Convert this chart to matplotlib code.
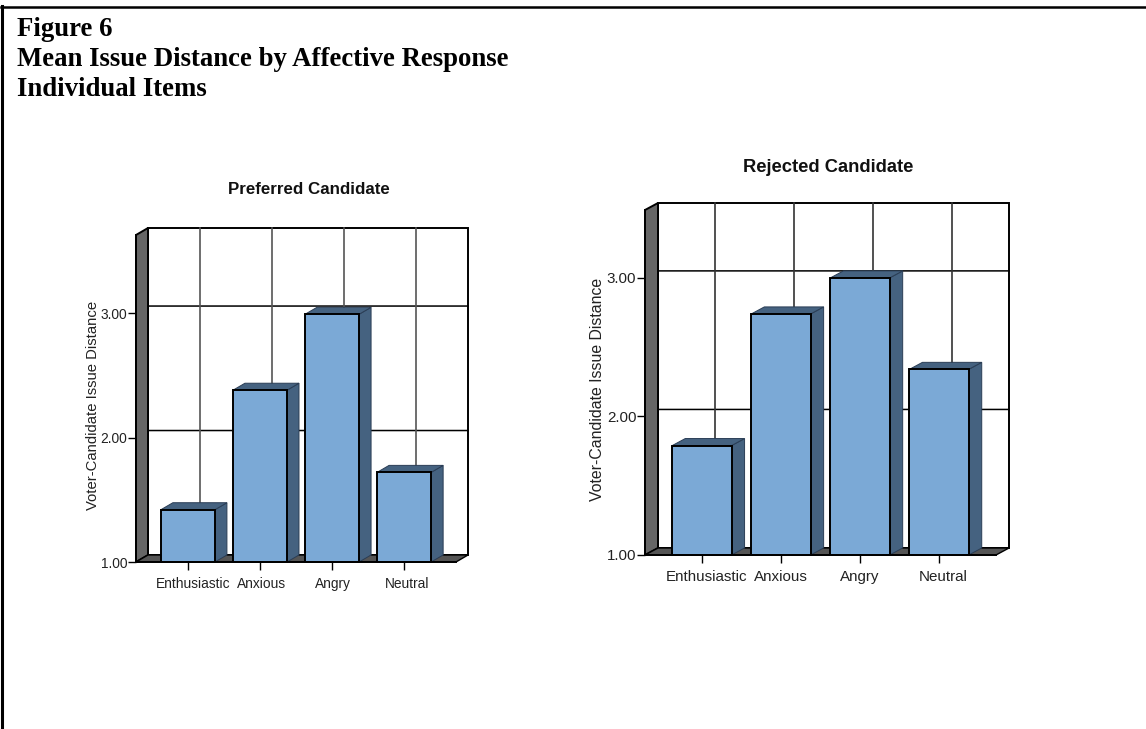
#!/usr/bin/env python3
"""Figure 6: mean issue distance by affective response, fake-3D bars."""

import matplotlib
matplotlib.use('Agg')
import matplotlib.pyplot as plt
from matplotlib.patches import Polygon, Rectangle
from matplotlib.lines import Line2D
from matplotlib.transforms import ScaledTranslation

W, H = 1146, 729

categories = ['Enthusiastic', 'Anxious', 'Angry', 'Neutral']
y_ticks = [1, 2, 3]
preferred = [1.42, 2.38, 2.99, 1.72]
rejected = [1.79, 2.74, 3.00, 2.34]

FRONT = '#7BA9D6'
SHADE = '#456280'
WALL = '#666666'
FLOOR = '#555555'

plt.rcParams['font.family'] = ['Liberation Sans', 'DejaVu Sans']


def draw_chart(fig, vals, title, left, right, bottom, top, ymax, dx, dy, fs, lab_fs, title_fs,
               title_xy, ylab_xy, vgrid, label_shift):
    """left/right/bottom/top are the front plane in pixels, dx/dy the depth."""
    ax = fig.add_axes([left / W, 1 - bottom / H, (right - left) / W, (bottom - top) / H])
    ax.patch.set_visible(False)
    ax.set_xlim(-0.72, 3.72)
    ax.set_ylim(1, ymax)
    ddx = dx * 4.44 / (right - left)
    ddy = dy * (ymax - 1) / (bottom - top)
    x0, x1 = -0.72, 3.72

    # back wall, side wall, floor
    ax.add_patch(Rectangle((x0 + ddx, 1 + ddy), x1 - x0, ymax - 1, fc='white', ec='black', lw=1.4, clip_on=False, zorder=1))
    ax.add_patch(Polygon([(x0, 1), (x0 + ddx, 1 + ddy), (x0 + ddx, ymax + ddy), (x0, ymax)],
                         fc=WALL, ec='black', lw=1.4, clip_on=False, zorder=3))
    ax.add_patch(Polygon([(x0, 1), (x1, 1), (x1 + ddx, 1 + ddy), (x0 + ddx, 1 + ddy)],
                         fc=FLOOR, ec='black', lw=1, clip_on=False, zorder=3))

    # grid on the back wall
    for t in y_ticks[1:]:
        ax.add_line(Line2D([x0, x0 + ddx, x1 + ddx], [t, t + ddy, t + ddy], color='black', lw=1.1, clip_on=False, zorder=2))
    for i in range(len(categories)):
        ax.add_line(Line2D([i + ddx, i + ddx], [1 + ddy, ymax + ddy], color=vgrid, lw=1.2, clip_on=False, zorder=2))

    # bars
    w = 0.375
    for i, v in enumerate(vals):
        ax.add_patch(Polygon([(i + w, 1), (i + w + ddx, 1 + ddy), (i + w + ddx, v + ddy), (i + w, v)],
                             fc=SHADE, ec='#2a3d55', lw=0.7, clip_on=False, zorder=4))
        ax.add_patch(Polygon([(i - w, v), (i + w, v), (i + w + ddx, v + ddy), (i - w + ddx, v + ddy)],
                             fc=SHADE, ec='#2a3d55', lw=0.7, clip_on=False, zorder=4))
    ax.bar(range(len(vals)), [v - 1 for v in vals], bottom=1, width=2 * w, color=FRONT,
           edgecolor='black', linewidth=1.4, clip_on=False, zorder=5)

    for s in ['top', 'right']:
        ax.spines[s].set_visible(False)
    for s in ['left', 'bottom']:
        ax.spines[s].set_linewidth(1.4)
        ax.spines[s].set_zorder(6)
    ax.set_xticks(range(len(categories)))
    ax.set_xticklabels(categories, fontsize=fs, va='baseline')
    ax.set_yticks(y_ticks)
    ax.set_yticklabels([f'{t:.2f}' for t in y_ticks], fontsize=fs)
    ax.tick_params(axis='x', length=5.5, width=1, pad=13.5, labelcolor='#222222', color='black')
    ax.tick_params(axis='y', length=6, width=1, pad=0.3, labelcolor='#222222', color='black')

    # the category labels are not quite centred under their ticks
    for lab, shift in zip(ax.get_xticklabels(), label_shift):
        lab.set_transform(lab.get_transform() + ScaledTranslation(shift / 100, 0, fig.dpi_scale_trans))

    fig.text(ylab_xy[0] / W, 1 - ylab_xy[1] / H, 'Voter-Candidate Issue Distance', rotation=90,
             ha='center', va='center', fontsize=lab_fs, color='#222222')
    fig.text(title_xy[0] / W, 1 - title_xy[1] / H, title, ha='center', va='center',
             fontsize=title_fs, fontweight='bold', color='#111111')


fig = plt.figure(figsize=(W / 100, H / 100), dpi=100, facecolor='white')

# page frame
fig.add_artist(Line2D([2 / W, 2 / W], [0, 1 - 6 / H], color='black', lw=2.2))
fig.add_artist(Line2D([1 / W, 1], [1 - 7 / H, 1 - 7 / H], color='black', lw=1.8))

for txt, y in [('Figure 6', 35.5), ('Mean Issue Distance by Affective Response', 66.5), ('Individual Items', 96)]:
    fig.text(17 / W, 1 - y / H, txt, family=['Liberation Serif'], fontweight='bold', fontsize=19.3,
             ha='left', va='baseline', color='black')

draw_chart(fig, preferred, 'Preferred Candidate', 136, 456, 562, 235, 3.627, 12, 7,
           9.9, 10.7, 12.2, (308.5, 189.5), (93, 405), '#555555', [5, 2, 1, 3])
draw_chart(fig, rejected, 'Rejected Candidate', 645, 996, 555, 210, 3.49, 13, 7,
           10.9, 11.4, 13.2, (828.5, 167), (598, 389), '#333333', [5, 0, 0, 4])

fig.savefig('out.png', dpi=100)
